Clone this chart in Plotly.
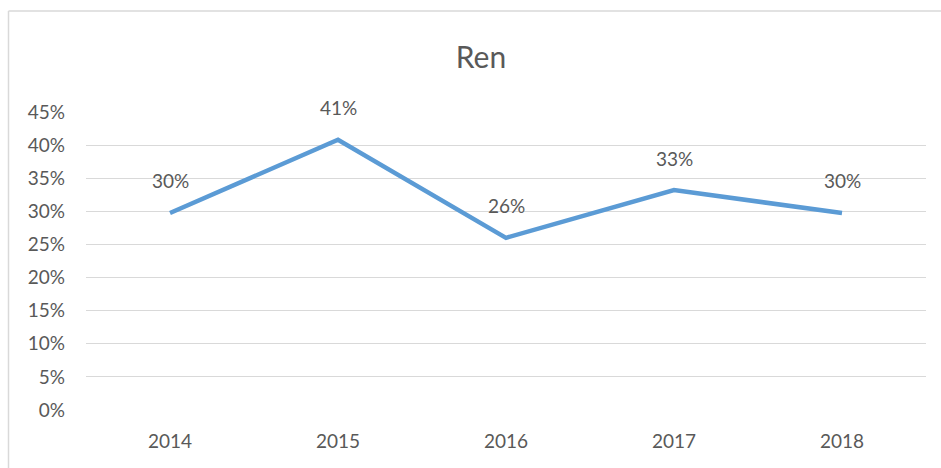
import plotly.graph_objects as go

years = ["2014", "2015", "2016", "2017", "2018"]
ren = [0.2975, 0.408, 0.26, 0.332, 0.2975]
y_ticks = [0, 0.05, 0.10, 0.15, 0.20, 0.25, 0.30, 0.35, 0.40, 0.45]
title_text = "Ren"

W, H = 941, 468
L, R, T, B = 86, 15, 112, 58
pw = W - L - R
ph = H - T - B

def px_x(p):
    return (p - L) / pw

def px_y(q):
    return (H - B - q) / ph

FONT = "Lato"
GRAY = "#595959"

fig = go.Figure()
fig.add_trace(go.Scatter(
    x=years, y=ren, mode="lines",
    line=dict(color="#5B9BD5", width=4.5),
    hoverinfo="skip", showlegend=False,
))

for i, v in enumerate(ren):
    fig.add_annotation(
        x=i, y=v, xref="x", yref="y", text=f"{round(v*100):.0f}%", showarrow=False,
        yshift=32, font=dict(family=FONT, size=19, color=GRAY),
    )

# chart border (left and top visible)
fig.add_shape(type="line", xref="paper", yref="paper",
              x0=px_x(8.5), x1=px_x(8.5), y0=px_y(11), y1=px_y(470),
              line=dict(color="#d9d9d9", width=1.5))
fig.add_shape(type="line", xref="paper", yref="paper",
              x0=px_x(8.5), x1=px_x(945), y0=px_y(11), y1=px_y(11),
              line=dict(color="#d9d9d9", width=1.5))

fig.update_layout(
    width=W, height=H,
    margin=dict(l=L, r=R, t=T, b=B, pad=0),
    paper_bgcolor="white", plot_bgcolor="white",
    title=dict(text=title_text, x=481 / W, xref="container", xanchor="center",
               y=1 - 57 / H, yref="container", yanchor="middle",
               font=dict(family=FONT, size=30, color=GRAY)),
    xaxis=dict(type="category", range=[-0.5, 4.5], showgrid=False,
               showline=False, zeroline=False, ticks="",
               ticklabelstandoff=18,
               tickfont=dict(family=FONT, size=19, color=GRAY)),
    yaxis=dict(range=[0, 0.45], tickvals=y_ticks, tickformat=".0%",
               showgrid=True, gridcolor="#d9d9d9", gridwidth=1,
               zeroline=False, showline=False, ticks="",
               ticklabelstandoff=20,
               tickfont=dict(family=FONT, size=19, color=GRAY)),
    font=dict(family=FONT, color=GRAY),
)

fig.write_html("out.html", config={"displayModeBar": False},
               post_script="document.body.style.margin='0';document.body.style.overflow='hidden';")
